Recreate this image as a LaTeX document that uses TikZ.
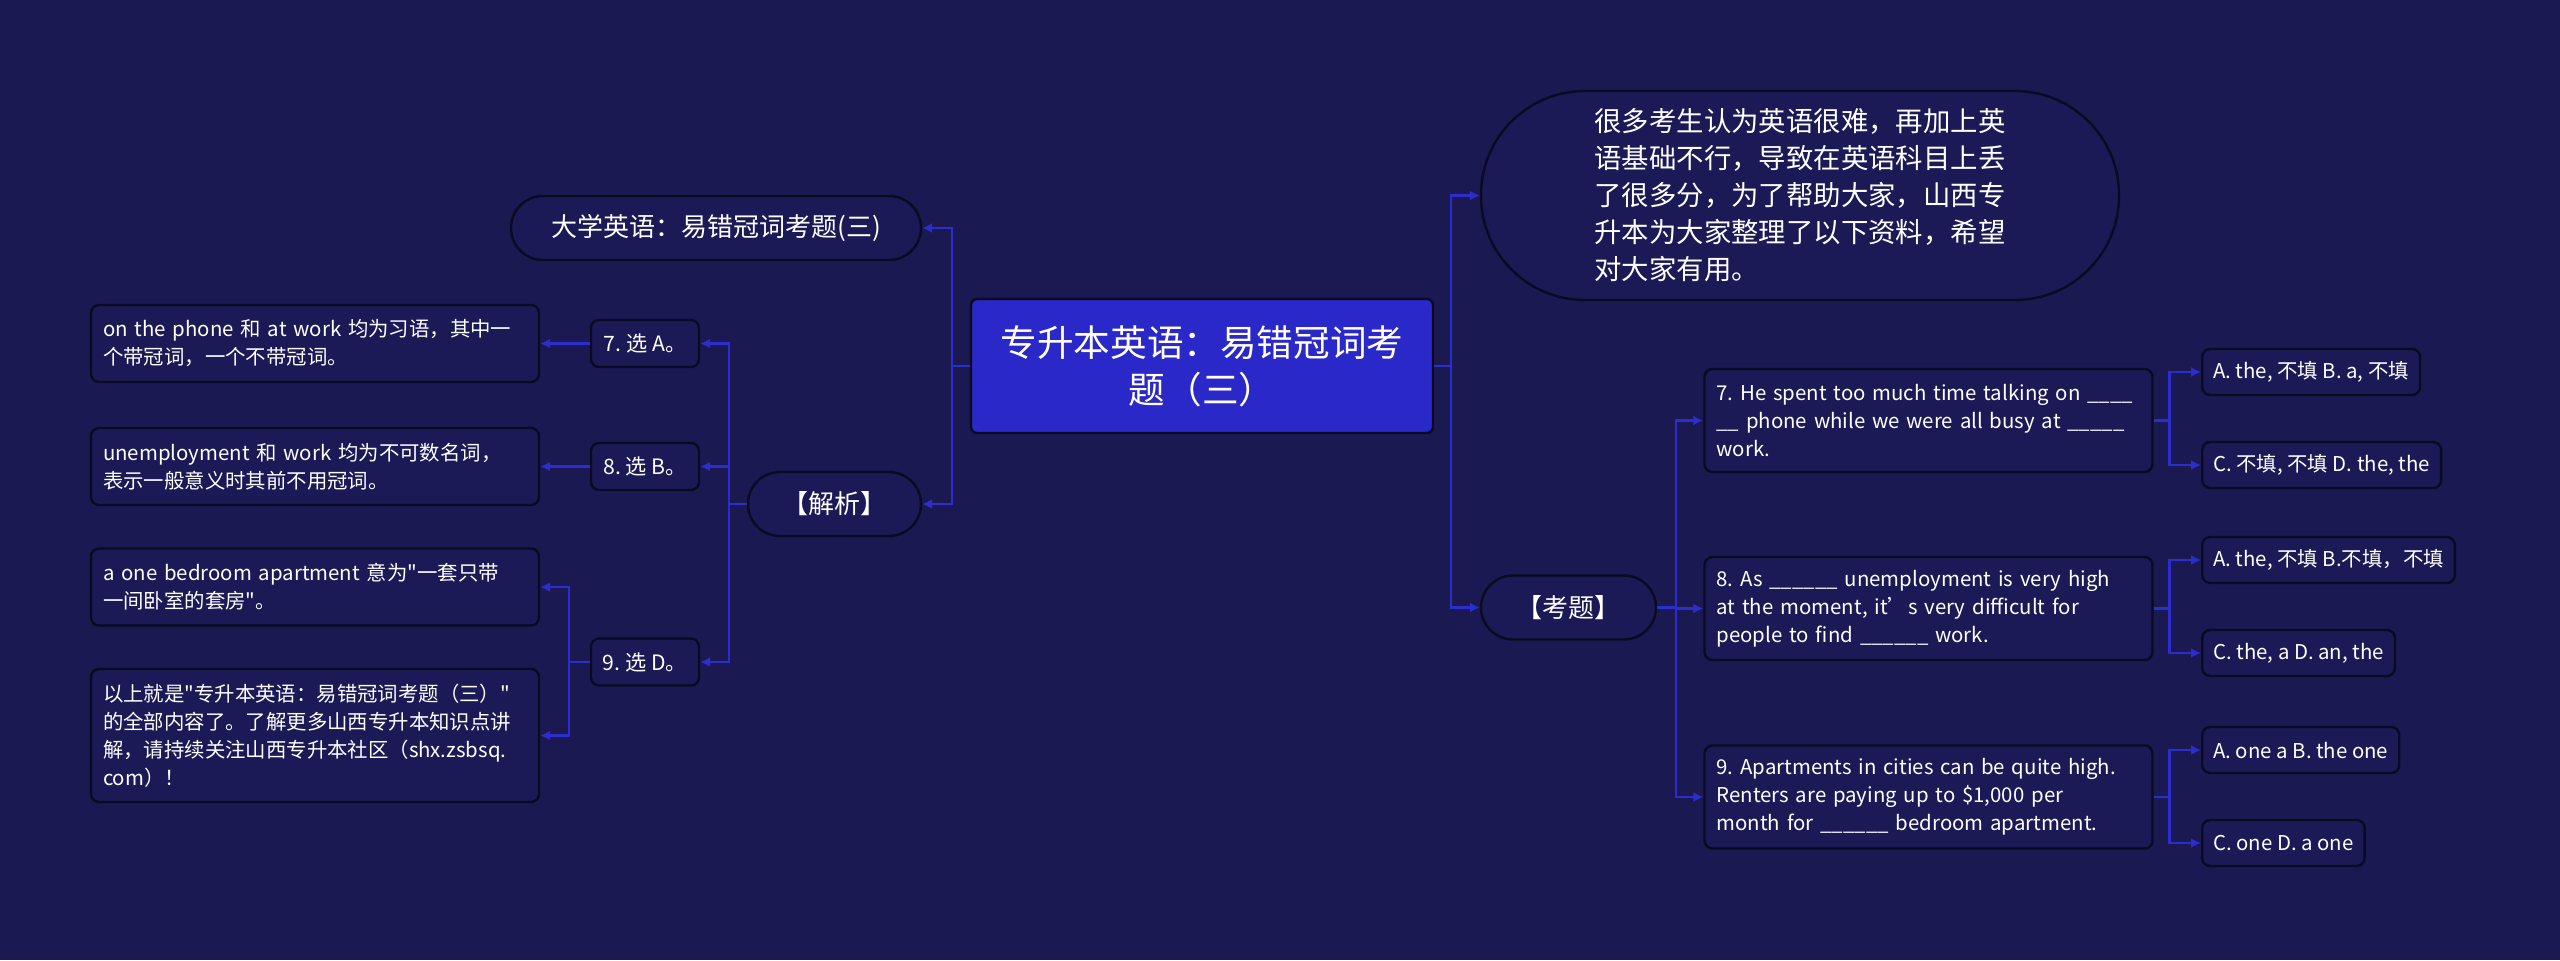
\documentclass[tikz,border=0pt]{standalone}
\usepackage{fontspec}
\setmainfont{Noto Sans CJK SC}[Ligatures=TeXOff]
\usetikzlibrary{arrows.meta}
\definecolor{bgnavy}{RGB}{26,25,82}
\definecolor{boxnavy}{RGB}{27,26,86}
\definecolor{rootblue}{RGB}{42,40,200}
\definecolor{linkblue}{RGB}{45,45,205}
\definecolor{edgedark}{RGB}{10,10,32}
\newcommand\fsz[2]{\fontsize{#1}{#2}\selectfont}
\frenchspacing

\begin{document}
\begin{tikzpicture}[x=0.5pt, y=-0.5pt, >={Latex[length=5pt,width=5pt]},
		every node/.style={text=white, draw=edgedark, line width=1.2pt},
		root/.style={fill=rootblue, rounded corners=3pt, minimum width=231pt, minimum height=67pt, align=center, font=\fsz{18.3}{23.5}},
		pill/.style={fill=boxnavy, rounded corners=16pt, minimum height=32pt, font=\fsz{13}{17}},
		intro/.style={fill=boxnavy, rounded corners=52pt, minimum width=319pt, minimum height=104.5pt, align=left, font=\fsz{13.7}{18.5}},
		leaf/.style={fill=boxnavy, rounded corners=4pt, align=left, text width=212pt, inner xsep=6pt, inner ysep=2pt, font=\fsz{10.2}{14}},
		pick/.style={fill=boxnavy, rounded corners=4pt, minimum width=54pt, minimum height=23.5pt, inner xsep=3pt, font=\fsz{10.6}{14}},
		opt/.style={fill=boxnavy, rounded corners=4pt, anchor=west, minimum height=23pt, inner xsep=5.5pt, font=\fsz{10.2}{14}},
		link/.style={draw=linkblue, line width=1.25pt, ->}]
		\useasboundingbox (0,0) rectangle (2560,960);
		\fill[bgnavy] (0,0) rectangle (2560,960);

		\node[root] (c) at (1202,366) {专升本英语：易错冠词考\\题（三）};
		\node[intro] (i) at (1800,195.5) {很多考生认为英语很难，再加上英\\语基础不行，导致在英语科目上丢\\了很多分，为了帮助大家，山西专\\升本为大家整理了以下资料，希望\\对大家有用。};
		\node[pill, minimum width=87.5pt] (kt) at (1568.5,607.5) {【考题】};
		\node[pill, minimum width=205pt] (t1) at (716,228) {大学英语：易错冠词考题(三)};
		\node[pill, minimum width=86.5pt] (jx) at (834.5,504) {【解析】};

		\node[pick] (a7) at (645,343.5) {7. 选 A。};
		\node[pick] (a8) at (645,466.5) {8. 选 B。};
		\node[pick] (a9) at (645,662) {9. 选 D。};
		\node[leaf, minimum height=38.5pt] (e7) at (315,343.5) {on the phone 和 at work 均为习语，其中一\\个带冠词，一个不带冠词。};
		\node[leaf, minimum height=38.5pt] (e8) at (315,466.5) {unemployment 和 work 均为不可数名词，\\表示一般意义时其前不用冠词。};
		\node[leaf, minimum height=38.5pt] (e9a) at (315,587) {a one bedroom apartment 意为"一套只带\\一间卧室的套房"。};
		\node[leaf, minimum height=66.5pt] (e9b) at (315,735.5) {以上就是"专升本英语：易错冠词考题（三）"\\的全部内容了。了解更多山西专升本知识点讲\\解，请持续关注山西专升本社区（shx.zsbsq.\\com）！};

		\node[leaf, minimum height=51.5pt] (q7) at (1928.5,420.5) {7. He spent too much time talking on \_\_\_\_\\\_\_ phone while we were all busy at \_\_\_\_\_\\work.};
		\node[leaf, minimum height=51.5pt] (q8) at (1928.5,608.5) {8. As \_\_\_\_\_\_ unemployment is very high\\at the moment, it’s very difficult for\\people to find \_\_\_\_\_\_ work.};
		\node[leaf, minimum height=51.5pt] (q9) at (1928.5,797) {9. Apartments in cities can be quite high.\\Renters are paying up to \$1,000 per\\month for \_\_\_\_\_\_ bedroom apartment.};

		\node[opt] (q7a) at (2201,372) {A. the, 不填 B. a, 不填};
		\node[opt] (q7b) at (2201,465) {C. 不填, 不填 D. the, the};
		\node[opt] (q8a) at (2201,560) {A. the, 不填 B.不填，不填};
		\node[opt] (q8b) at (2201,653) {C. the, a D. an, the};
		\node[opt] (q9a) at (2201,750) {A. one a B. the one};
		\node[opt] (q9b) at (2201,843) {C. one D. a one};

		\draw[link] (c.east) -- ++(17,0) |- (i.west);
		\draw[link] (c.east) -- ++(17,0) |- (kt.west);
		\draw[link] (c.west) -- ++(-18,0) |- (t1.east);
		\draw[link] (c.west) -- ++(-18,0) |- (jx.east);

		\draw[link] (jx.west) -- ++(-18,0) |- (a7.east);
		\draw[link] (jx.west) -- ++(-18,0) |- (a8.east);
		\draw[link] (jx.west) -- ++(-18,0) |- (a9.east);
		\draw[link] (a7.west) -- (e7.east);
		\draw[link] (a8.west) -- (e8.east);
		\draw[link] (a9.west) -- ++(-21,0) |- (e9a.east);
		\draw[link] (a9.west) -- ++(-21,0) |- (e9b.east);

		\draw[link] (kt.east) -- ++(19,0) |- (q7.west);
		\draw[link] (kt.east) -- ++(19,0) |- (q8.west);
		\draw[link] (kt.east) -- ++(19,0) |- (q9.west);
		\draw[link] (q7.east) -- ++(16,0) |- (q7a.west);
		\draw[link] (q7.east) -- ++(16,0) |- (q7b.west);
		\draw[link] (q8.east) -- ++(16,0) |- (q8a.west);
		\draw[link] (q8.east) -- ++(16,0) |- (q8b.west);
		\draw[link] (q9.east) -- ++(16,0) |- (q9a.west);
		\draw[link] (q9.east) -- ++(16,0) |- (q9b.west);
	\end{tikzpicture}
\end{document}
